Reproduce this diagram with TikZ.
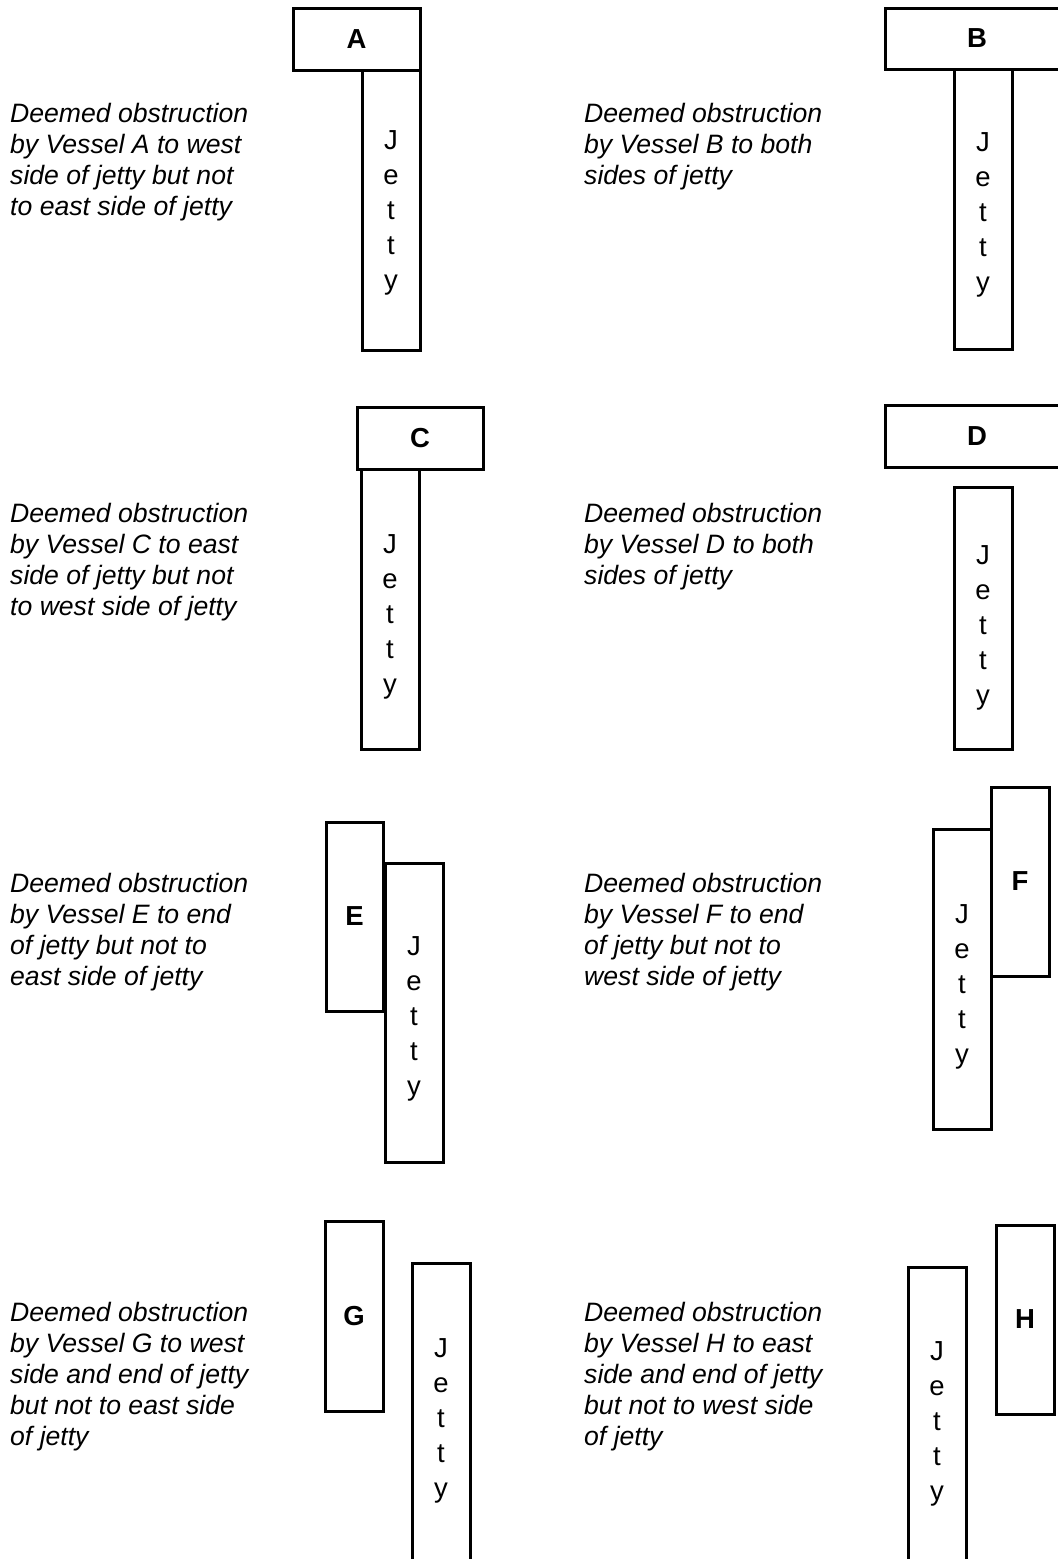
\documentclass[tikz,border=0pt]{standalone}
\usepackage{fontspec}
\setmainfont{Liberation Sans}
\begin{document}
\begin{tikzpicture}[x=1pt,y=-1pt,
  box/.style={draw=black,line width=3pt,fill=white,inner sep=0pt,outer sep=0pt},
  vlabel/.style={inner sep=0pt,font=\fontsize{27.5}{33}\selectfont\bfseries},
  jtext/.style={inner sep=0pt,align=center,font=\fontsize{27.5}{35}\selectfont},
  desc/.style={inner sep=0pt,anchor=north west,align=left,font=\fontsize{26.6}{31}\selectfont\itshape}]
\useasboundingbox (0,0) rectangle (1058,1559);
\clip (0,0) rectangle (1058,1559);
% ---- A ----
\node[box,minimum width=58pt,minimum height=280pt] (jA) at (391,210) {};
\node[box,minimum width=127pt,minimum height=62pt] (vA) at (356.5,39) {};
\node[vlabel] (lA) at (vA.center) {A};
\node[jtext] (tA) at (391,213) {J\\e\\t\\t\\y};
\node[desc] (dA) at (10,103) {Deemed obstruction\\by Vessel A to west\\side of jetty but not\\to east side of jetty};
% ---- B ----
\node[box,minimum width=58pt,minimum height=280pt] (jB) at (983,209) {};
\node[box,minimum width=184pt,minimum height=61pt] (vB) at (977,38.5) {};
\node[vlabel] (lB) at (vB.center) {B};
\node[jtext] (tB) at (983,215) {J\\e\\t\\t\\y};
\node[desc] (dB) at (584,103) {Deemed obstruction\\by Vessel B to both\\sides of jetty};
% ---- C ----
\node[box,minimum width=58pt,minimum height=280pt] (jC) at (390,609) {};
\node[box,minimum width=126pt,minimum height=62pt] (vC) at (420,438) {};
\node[vlabel] (lC) at (vC.center) {C};
\node[jtext] (tC) at (390,617) {J\\e\\t\\t\\y};
\node[desc] (dC) at (10,503) {Deemed obstruction\\by Vessel C to east\\side of jetty but not\\to west side of jetty};
% ---- D ----
\node[box,minimum width=58pt,minimum height=262pt] (jD) at (983,618) {};
\node[box,minimum width=184pt,minimum height=62pt] (vD) at (977,436) {};
\node[vlabel] (lD) at (vD.center) {D};
\node[jtext] (tD) at (983,628) {J\\e\\t\\t\\y};
\node[desc] (dD) at (584,503) {Deemed obstruction\\by Vessel D to both\\sides of jetty};
% ---- E ----
\node[box,minimum width=58pt,minimum height=299pt] (jE) at (414,1012.5) {};
\node[box,minimum width=57pt,minimum height=189pt] (vE) at (354.5,916.5) {};
\node[vlabel] (lE) at (vE.center) {E};
\node[jtext] (tE) at (414,1019) {J\\e\\t\\t\\y};
\node[desc] (dE) at (10,873) {Deemed obstruction\\by Vessel E to end\\of jetty but not to\\east side of jetty};
% ---- F ----
\node[box,minimum width=58pt,minimum height=300pt] (jF) at (962,979) {};
\node[box,minimum width=58pt,minimum height=189pt] (vF) at (1020,881.5) {};
\node[vlabel] (lF) at (vF.center) {F};
\node[jtext] (tF) at (962,987) {J\\e\\t\\t\\y};
\node[desc] (dF) at (584,873) {Deemed obstruction\\by Vessel F to end\\of jetty but not to\\west side of jetty};
% ---- G ----
\node[box,minimum width=58pt,minimum height=320pt] (jG) at (441,1423) {};
\node[box,minimum width=58pt,minimum height=190pt] (vG) at (354,1316) {};
\node[vlabel] (lG) at (vG.center) {G};
\node[jtext] (tG) at (441,1421) {J\\e\\t\\t\\y};
\node[desc] (dG) at (10,1302) {Deemed obstruction\\by Vessel G to west\\side and end of jetty\\but not to east side\\of jetty};
% ---- H ----
\node[box,minimum width=58pt,minimum height=320pt] (jH) at (937,1427) {};
\node[box,minimum width=58pt,minimum height=189pt] (vH) at (1025,1319.5) {};
\node[vlabel] (lH) at (vH.center) {H};
\node[jtext] (tH) at (937,1424) {J\\e\\t\\t\\y};
\node[desc] (dH) at (584,1302) {Deemed obstruction\\by Vessel H to east\\side and end of jetty\\but not to west side\\of jetty};
\end{tikzpicture}
\end{document}
